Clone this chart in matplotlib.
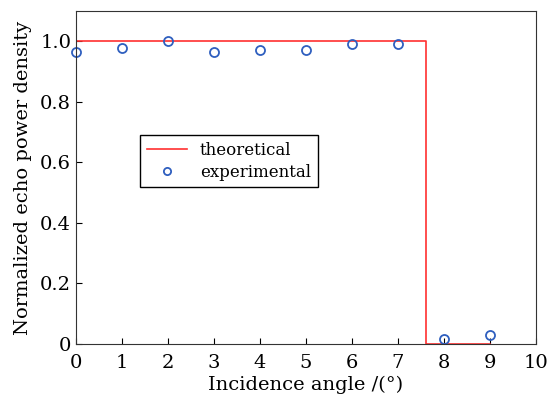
import numpy as np
import matplotlib.pyplot as plt

# theoretical curve (step) and measured points
theo_x = [0, 7.6, 7.6, 9]
theo_y = [1.0, 1.0, 0.0, 0.0]
exp_x = [0, 1, 2, 3, 4, 5, 6, 7, 8, 9]
exp_y = [0.965, 0.978, 1.0, 0.965, 0.972, 0.972, 0.991, 0.991, 0.018, 0.031]

plt.rcParams['font.family'] = ['DejaVu Serif']

fig = plt.figure(figsize=(5.47, 4.0), dpi=100)
ax = fig.add_axes([0.139, 0.14, 0.841, 0.8325])
ax.plot(theo_x, theo_y, color='#ff3030', lw=1.2, label='theoretical')
ax.plot(exp_x, exp_y, 'o', mfc='none', mec='#2f5fbf', ms=6.5, mew=1.3,
        label='experimental', clip_on=False)

ax.set_xlim(0, 10)
ax.set_ylim(0, 1.1)
ax.set_xticks(range(0, 11))
ax.set_yticks([0, 0.2, 0.4, 0.6, 0.8, 1.0])
ax.set_yticklabels(['0', '0.2', '0.4', '0.6', '0.8', '1.0'])
ax.tick_params(direction='in', labelsize=14, top=False, right=False, length=4)
ax.tick_params(axis='x', pad=7)
for s in ax.spines.values():
    s.set_color('#333333')
ax.set_xlabel('Incidence angle /(°)', fontsize=14, labelpad=3)
ax.set_ylabel('Normalized echo power density', fontsize=14, labelpad=6)

leg = ax.legend(loc='upper left', bbox_to_anchor=(0.139, 0.628), fontsize=12,
                fancybox=False, edgecolor='black', framealpha=1,
                handlelength=2.4, borderpad=0.4, labelspacing=0.3,
                borderaxespad=0, markerscale=0.8)
leg.get_frame().set_linewidth(1.0)

fig.savefig('out.png', dpi=100)
